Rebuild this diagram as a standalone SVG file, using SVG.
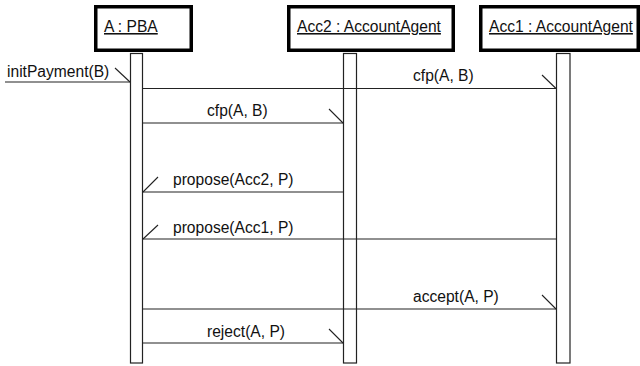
<svg xmlns="http://www.w3.org/2000/svg" width="640" height="366" viewBox="0 0 640 366">
  <style>
    .obj { fill: #fff; stroke: #000; stroke-width: 3.5; }
    .bar { fill: #fff; stroke: #222; stroke-width: 1.2; }
    .msg { fill: none; stroke: #222; stroke-width: 1.1; }
    .head { fill: none; stroke: #222; stroke-width: 1.1; }
    text { font-family: "Liberation Sans", Arial, Helvetica, sans-serif; font-size: 15.6px; fill: #111; }
    .name { text-decoration: underline; }
  </style>

  <!-- lifelines: object boxes with activation bars -->
  <g id="pba">
    <rect class="obj" x="95.75" y="6.75" width="95.5" height="43.5"/>
    <text class="name" x="104" y="32">A : PBA</text>
    <rect class="bar" x="130.5" y="53.5" width="12" height="309.5"/>
  </g>
  <g id="acc2">
    <rect class="obj" x="288.75" y="6.75" width="164.5" height="43.5"/>
    <text class="name" x="297" y="32">Acc2 : AccountAgent</text>
    <rect class="bar" x="343.5" y="53.5" width="13" height="309.5"/>
  </g>
  <g id="acc1">
    <rect class="obj" x="480.75" y="6.75" width="157.5" height="43.5"/>
    <text class="name" x="489" y="32">Acc1 : AccountAgent</text>
    <rect class="bar" x="556.5" y="53.5" width="13.5" height="309.5"/>
  </g>

  <!-- messages -->
  <g id="messages">
    <!-- initPayment(B) -->
    <line class="msg" x1="5" y1="82" x2="130" y2="82"/>
    <line class="head" x1="115" y1="68" x2="130" y2="82"/>
    <text x="7" y="77">initPayment(B)</text>

    <!-- cfp to Acc1 -->
    <line class="msg" x1="143" y1="88.5" x2="556" y2="88.5"/>
    <line class="head" x1="542" y1="75" x2="556" y2="88.5"/>
    <text x="413" y="81">cfp(A, B)</text>

    <!-- cfp to Acc2 -->
    <line class="msg" x1="143" y1="123" x2="343" y2="123"/>
    <line class="head" x1="329" y1="109" x2="343" y2="123"/>
    <text x="207" y="116">cfp(A, B)</text>

    <!-- propose from Acc2 -->
    <line class="msg" x1="343" y1="192" x2="143" y2="192"/>
    <line class="head" x1="158" y1="177" x2="143" y2="192"/>
    <text x="173" y="185">propose(Acc2, P)</text>

    <!-- propose from Acc1 -->
    <line class="msg" x1="556" y1="239" x2="143" y2="239"/>
    <line class="head" x1="158" y1="225" x2="143" y2="239"/>
    <text x="173" y="233">propose(Acc1, P)</text>

    <!-- accept to Acc1 -->
    <line class="msg" x1="143" y1="309" x2="556" y2="309"/>
    <line class="head" x1="542" y1="295" x2="556" y2="309"/>
    <text x="413" y="302">accept(A, P)</text>

    <!-- reject to Acc2 -->
    <line class="msg" x1="143" y1="343" x2="343" y2="343"/>
    <line class="head" x1="329" y1="329" x2="343" y2="343"/>
    <text x="207" y="337">reject(A, P)</text>
  </g>
</svg>
